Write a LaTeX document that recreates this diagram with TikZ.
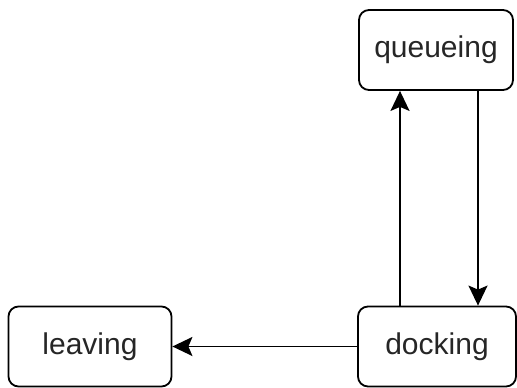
\documentclass[tikz,border=0pt]{standalone}
\usepackage{fontspec}
\setmainfont{Liberation Sans}
\usetikzlibrary{arrows.meta}

\begin{document}
\begin{tikzpicture}[x=1pt, y=-1pt,
        state/.style={draw, line width=1.8pt, rounded corners=10pt, inner sep=0pt,
            minimum height=80pt, font=\fontsize{30}{34}\selectfont, text=black!85},
        link/.style={line width=1.8pt, -{Stealth[length=20pt, width=19pt, inset=4pt]}}]
        \useasboundingbox (0,0) rectangle (517,388);
        
        \node[state, minimum width=154pt] (queueing) at (436,50) {queueing};
        \node[state, minimum width=158pt] (docking) at (437,346.5) {docking};
        \node[state, minimum width=163pt] (leaving) at (90,346.5) {leaving};
        
        \draw[link] ([xshift=-37pt]docking.north) -- ([xshift=-36pt]queueing.south);
        \draw[link] ([xshift=42pt]queueing.south) -- ([xshift=41pt]docking.north);
        \draw[link] (docking.west) -- (leaving.east);
    \end{tikzpicture}
\end{document}
